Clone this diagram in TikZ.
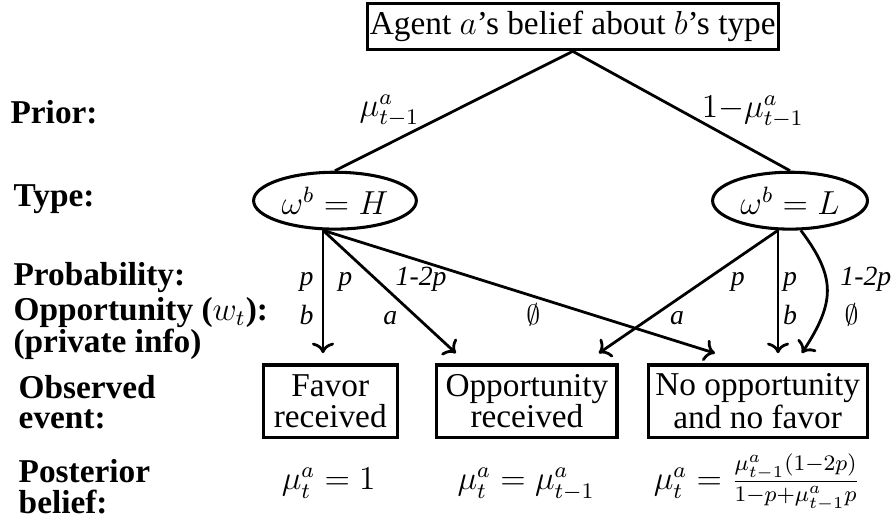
\documentclass[tikz,border=0pt]{standalone}
\usepackage{amsmath}
\usepackage{amssymb}
\usepackage[no-math]{fontspec}
\setmainfont{Liberation Serif}
\usetikzlibrary{arrows.meta, calc, shapes.geometric}

\begin{document}
\begin{tikzpicture}[font=\fontsize{12}{11}\selectfont,
    evbox/.style={draw, line width=1.1pt, minimum height=0.92cm, align=center, inner sep=1pt},
    typenode/.style={draw, ellipse, line width=1.1pt, minimum height=0.72cm, inner sep=0pt},
    sidelbl/.style={anchor=base west, inner sep=0pt, align=left, font=\fontsize{12}{11}\selectfont\bfseries},
    rowlbl/.style={anchor=base, inner sep=0pt, font=\fontsize{10}{11}\selectfont},
    arr/.style={->, line width=1pt}]
  \useasboundingbox (0,0) rectangle (11.316,-6.532);

  % tree
  \node[draw, line width=1.1pt, minimum width=5.19cm, minimum height=0.59cm, inner sep=1pt] (root) at (7.25,-0.335) {Agent $a$'s belief about $b$'s type};
  \node[typenode, minimum width=2.06cm] (H) at (4.24,-2.54) {$\omega^b = H$};
  \node[typenode, minimum width=1.96cm] (L) at (10.0,-2.54) {$\omega^b = L$};
  \draw[line width=1pt] (root.south) -- (H.north);
  \draw[line width=1pt] (root.south) -- (L.north);
  \node (prH) at (4.93,-1.40) {$\mu^a_{t-1}$};
  \node (prL) at (9.53,-1.42) {$1{-}\mu^a_{t-1}$};

  % observed events
  \node[evbox, minimum width=1.70cm] (fav) at (4.18,-5.08) {Favor\\received};
  \node[evbox, minimum width=2.28cm] (opp) at (6.67,-5.08) {Opportunity\\received};
  \node[evbox, minimum width=2.77cm] (noop) at (9.59,-5.08) {No opportunity\\and no favor};

  \coordinate (oppA) at ($(opp.north west)+(0.26,0.13)$);
  \coordinate (oppB) at ($(opp.north east)+(-0.25,0.13)$);
  \coordinate (noopA) at ($(noop.north)+(-0.54,0.13)$);
  \coordinate (noopC) at ($(noop.north)+(0.56,0.13)$);

  \draw[arr, shorten >=0.13cm] (H.248) -- (H.248 |- fav.north);
  \draw[arr] (H.248) -- (oppA);
  \draw[arr] (H.248) -- (noopA);
  \draw[arr] (L.248) -- (oppB);
  \draw[arr, shorten >=0.13cm] (L.248) -- (L.248 |- noop.north);
  \draw[arr] (L.290) to[out=-53, in=57, looseness=1.25] (noopC);

  % probabilities and opportunities
  \node[rowlbl] (pHb) at (3.88,-3.62) {\textit{p}};
  \node[rowlbl] (pHa) at (4.37,-3.62) {\textit{p}};
  \node[rowlbl] (pHn) at (5.33,-3.62) {\textit{1-2p}};
  \node[rowlbl] (pLa) at (9.34,-3.62) {\textit{p}};
  \node[rowlbl] (pLb) at (10.0,-3.62) {\textit{p}};
  \node[rowlbl] (pLn) at (10.96,-3.62) {\textit{1-2p}};
  \node[rowlbl] (oHb) at (3.88,-4.11) {\textit{b}};
  \node[rowlbl] (oHa) at (4.94,-4.11) {\textit{a}};
  \node[rowlbl] (oHn) at (6.75,-4.11) {$\emptyset$};
  \node[rowlbl] (oLa) at (8.57,-4.11) {\textit{a}};
  \node[rowlbl] (oLb) at (10.0,-4.11) {\textit{b}};
  \node[rowlbl] (oLn) at (10.78,-4.11) {$\emptyset$};

  % posterior beliefs
  \node[anchor=base] (postF) at (4.16,-6.2) {$\mu^a_t = 1$};
  \node[anchor=base] (postO) at (6.66,-6.2) {$\mu^a_t = \mu^a_{t-1}$};
  \node[anchor=base] (postN) at (9.58,-6.2) {$\mu^a_t = \frac{\mu^a_{t-1}(1{-}2p)}{1{-}p{+}\mu^a_{t-1}p}$};

  % row captions
  \node[sidelbl] (cPrior) at (0.127,-1.56) {Prior:};
  \node[sidelbl] (cType) at (0.165,-2.62) {Type:};
  \node[sidelbl] (cProb) at (0.165,-3.62) {Probability:};
  \node[sidelbl] (cOpp) at (0.165,-4.06) {Opportunity ($w_t$):};
  \node[sidelbl] (cPriv) at (0.165,-4.46) {(private info)};
  \node[sidelbl, anchor=west] (cObs) at (0.23,-5.09) {Observed\\event:};
  \node[sidelbl, anchor=west] (cPost) at (0.23,-6.16) {Posterior\\belief:};
\end{tikzpicture}
\end{document}
